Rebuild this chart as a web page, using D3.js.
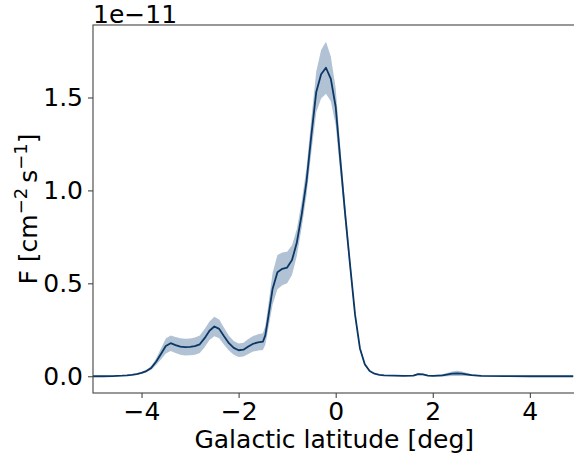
<!DOCTYPE html>
<html>
<head>
<meta charset="utf-8">
<script src="https://cdn.jsdelivr.net/npm/d3@7"></script>
<style>
  html, body { margin: 0; padding: 0; background: #fff; }
  svg { display: block; }
  text { font-family: "DejaVu Sans", sans-serif; fill: #000; }
</style>
</head>
<body>
<script>
// Galactic latitude (deg)
const latitude = [-5.0,-4.8,-4.6,-4.4,-4.3,-4.2,-4.1,-4.0,-3.9,-3.8,-3.7,-3.6,-3.5,-3.4,-3.3,-3.2,-3.1,-3.0,-2.9,-2.8,-2.7,-2.6,-2.5,-2.4,-2.3,-2.2,-2.1,-2.0,-1.9,-1.8,-1.7,-1.6,-1.5,-1.45,-1.4,-1.3,-1.2,-1.1,-1.0,-0.9,-0.8,-0.7,-0.6,-0.5,-0.4,-0.3,-0.2,-0.1,0.0,0.1,0.2,0.3,0.4,0.5,0.6,0.7,0.8,0.9,1.0,1.2,1.4,1.6,1.7,1.8,1.9,2.0,2.2,2.4,2.5,2.6,2.8,3.0,3.5,4.0,4.9];
// Flux (units of 1e-11 cm^-2 s^-1)
const flux = [0.000,0.000,0.001,0.003,0.005,0.008,0.012,0.018,0.028,0.045,0.078,0.120,0.163,0.178,0.168,0.160,0.157,0.158,0.162,0.172,0.205,0.245,0.268,0.255,0.215,0.178,0.153,0.140,0.143,0.160,0.175,0.182,0.186,0.220,0.300,0.470,0.560,0.578,0.585,0.625,0.720,0.870,1.050,1.300,1.530,1.625,1.660,1.600,1.450,1.150,0.860,0.590,0.330,0.150,0.065,0.028,0.014,0.008,0.005,0.003,0.002,0.004,0.012,0.010,0.004,0.002,0.005,0.014,0.016,0.014,0.006,0.002,0.001,0.000,0.000];
// 1-sigma uncertainty (same units)
const fluxErr = [0.001,0.001,0.001,0.002,0.002,0.003,0.004,0.005,0.007,0.010,0.018,0.030,0.040,0.042,0.043,0.044,0.045,0.045,0.046,0.047,0.049,0.050,0.052,0.050,0.046,0.040,0.037,0.036,0.037,0.040,0.042,0.044,0.045,0.050,0.060,0.085,0.092,0.088,0.085,0.080,0.072,0.070,0.075,0.090,0.110,0.130,0.140,0.120,0.100,0.070,0.050,0.035,0.020,0.012,0.008,0.004,0.002,0.002,0.002,0.002,0.002,0.003,0.005,0.004,0.003,0.003,0.006,0.012,0.014,0.012,0.005,0.002,0.001,0.001,0.001];
const xTicks = [-4, -2, 0, 2, 4];
const yTicks = [0.0, 0.5, 1.0, 1.5];

const W = 574, H = 458;
const m = { left: 93, right: 573.5, top: 25, bottom: 393 };
const FS = 25;

const svg = d3.select("body").append("svg").attr("width", W).attr("height", H);

const x = d3.scaleLinear().domain([-5, 4.9]).range([m.left, m.right]);
const y = d3.scaleLinear().domain([-0.09, 1.89]).range([m.bottom, m.top]);

const data = latitude.map((d, i) => ({ x: d, y: flux[i], e: fluxErr[i] }));

svg.append("clipPath").attr("id", "clip").append("rect")
  .attr("x", m.left).attr("y", m.top).attr("width", m.right - m.left).attr("height", m.bottom - m.top);

const g = svg.append("g").attr("clip-path", "url(#clip)");

g.append("path").datum(data)
  .attr("fill", "#b1c2d4")
  .attr("stroke", "none")
  .attr("d", d3.area().x(d => x(d.x)).y0(d => y(d.y - d.e)).y1(d => y(d.y + d.e)));

g.append("path").datum(data)
  .attr("fill", "none")
  .attr("stroke", "#0b3765")
  .attr("stroke-width", 1.8)
  .attr("stroke-linejoin", "round")
  .attr("d", d3.line().x(d => x(d.x)).y(d => y(d.y)));

// axes
const xAxis = d3.axisBottom(x).tickValues(xTicks).tickSize(5).tickPadding(4)
  .tickFormat(d => d3.format("d")(d).replace("-", "\u2212"));
const gx = svg.append("g").attr("transform", `translate(0,${m.bottom})`).call(xAxis);
const yAxis = d3.axisLeft(y).tickValues(yTicks).tickSize(5).tickPadding(5)
  .tickFormat(d3.format(".1f"));
const gy = svg.append("g").attr("transform", `translate(${m.left},0)`).call(yAxis);

[gx, gy].forEach(a => {
  a.select(".domain").remove();
  a.selectAll(".tick line").attr("stroke", "#333").attr("stroke-width", 1);
  a.selectAll(".tick text").attr("font-size", FS).attr("font-family", "DejaVu Sans, sans-serif").attr("fill", "#000");
});

// spines
svg.append("rect").attr("x", m.left).attr("y", m.top)
  .attr("width", m.right - m.left + 1.5).attr("height", m.bottom - m.top)
  .attr("fill", "none").attr("stroke", "#444").attr("stroke-width", 1.1);

// offset text
svg.append("text").attr("x", m.left).attr("y", 23).attr("font-size", FS).text("1e\u221211");

// x label
svg.append("text").attr("x", (m.left + m.right) / 2 + 1).attr("y", 448)
  .attr("text-anchor", "middle").attr("font-size", FS).text("Galactic latitude [deg]");

// y label
const yl = svg.append("text").attr("transform", `translate(37,${(m.top + m.bottom) / 2}) rotate(-90)`)
  .attr("text-anchor", "middle").attr("font-size", FS);
yl.append("tspan").text("F [cm");
yl.append("tspan").attr("font-size", 18).attr("dy", -10).text("\u22122");
yl.append("tspan").attr("dy", 10).text("\u2009s");
yl.append("tspan").attr("font-size", 18).attr("dy", -10).text("\u22121");
yl.append("tspan").attr("dy", 10).text("]");
</script>
</body>
</html>
